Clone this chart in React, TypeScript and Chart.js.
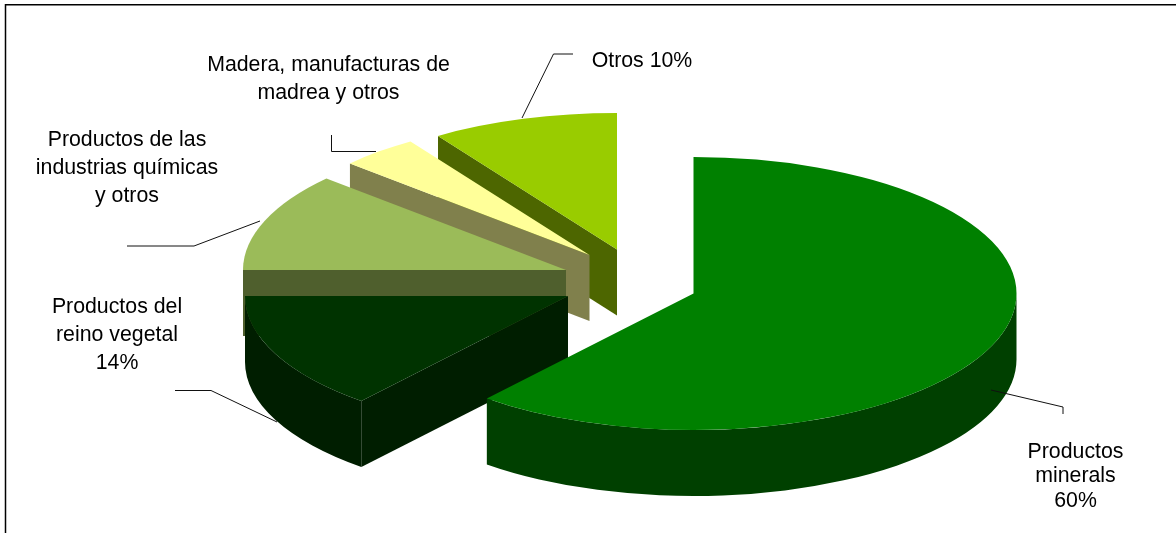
import React, { useEffect, useRef } from "react";
import { Chart, registerables } from "chart.js";

Chart.register(...registerables);

const categories = [
  "Productos minerals",
  "Productos del reino vegetal",
  "Productos de las industrias químicas y otros",
  "Madera, manufacturas de madrea y otros",
  "Otros",
];
const shares = [61.05, 13.95, 11.7, 3.95, 9.35];

// Colours
const topColors = ["#008000", "#003300", "#9BBB59", "#FFFF99", "#99CC00"];
const cutColors = ["#004000", "#001E00", "#4F5F2D", "#80804C", "#4D6600"];
const rimColors = ["#004000", "#001E00", "#4F5F2D", "#80804C", "#4D6600"];

// Exploded layout of the 3D pie
const W = 1176;
const H = 533;
const RX = 323;
const RY = 136.5;
const DEPTH = 66;
const apexX = [693.5, 568, 566, 589.5, 617];
const apexY = [293.5, 296, 270, 255, 249.5];
const drawOrder = [4, 3, 2, 1, 0];

// Labels
const FONT = '21.3px "Liberation Sans", Arial, sans-serif';
const labelLines = [
  { x: 1075.5, ys: [452, 476.5, 501], lines: ["Productos", "minerals", "60%"] },
  { x: 117, ys: [307, 335, 363], lines: ["Productos del", "reino vegetal", "14%"] },
  { x: 127, ys: [140, 168, 196], lines: ["Productos de las", "industrias químicas", "y otros"] },
  { x: 328.5, ys: [65, 93], lines: ["Madera, manufacturas de", "madrea y otros"] },
  { x: 642, ys: [61], lines: ["Otros 10%"] },
];
const leaders: number[][][] = [
  [[991, 390], [1063, 407], [1063, 414]],
  [[175, 390.5], [211, 390.5], [277, 422]],
  [[127, 246], [194, 246], [260, 221]],
  [[331.5, 135], [331.5, 151.5], [376, 151.5]],
  [[522, 118], [553.5, 54], [573, 54]],
];

const pie3d = {
  id: "pie3d",
  beforeDraw(chart: any) {
    const { ctx } = chart;
    ctx.save();
    ctx.fillStyle = "#ffffff";
    ctx.fillRect(0, 0, W, H);
    ctx.restore();
  },
  beforeDatasetDraw(chart: any, args: any) {
    const { ctx } = chart;
    const arcs = args.meta.data;
    for (const i of drawOrder) {
      const arc = arcs[i];
      const cx = apexX[i];
      const cy = apexY[i];
      const a0 = arc.startAngle;
      const a1 = arc.endAngle;
      // straight cut face below the leading edge of the slice
      const sx = cx + RX * Math.cos(a0);
      const sy = cy + RY * Math.sin(a0);
      ctx.save();
      ctx.fillStyle = cutColors[i];
      ctx.beginPath();
      ctx.moveTo(cx, cy);
      ctx.lineTo(sx, sy);
      ctx.lineTo(sx, sy + DEPTH);
      ctx.lineTo(cx, cy + DEPTH);
      ctx.closePath();
      ctx.fill();
      // curved rim, front half only
      const f0 = Math.max(a0, 0);
      const f1 = Math.min(a1, Math.PI);
      if (f1 > f0) {
        ctx.fillStyle = rimColors[i];
        ctx.beginPath();
        ctx.ellipse(cx, cy, RX, RY, 0, f0, f1);
        ctx.ellipse(cx, cy + DEPTH, RX, RY, 0, f1, f0, true);
        ctx.closePath();
        ctx.fill();
      }
      ctx.restore();
      // the library's own arc element, flattened and moved to its exploded place
      ctx.save();
      ctx.translate(cx, cy);
      ctx.scale(RX / arc.outerRadius, RY / arc.outerRadius);
      ctx.translate(-arc.x, -arc.y);
      arc.draw(ctx);
      ctx.restore();
    }
    return false;
  },
  afterDraw(chart: any) {
    const { ctx } = chart;
    ctx.save();
    // frame
    ctx.strokeStyle = "#000000";
    ctx.lineWidth = 1.5;
    ctx.beginPath();
    ctx.moveTo(5.5, H);
    ctx.lineTo(5.5, 4.8);
    ctx.lineTo(W, 4.8);
    ctx.stroke();
    // leader lines
    ctx.strokeStyle = "#111111";
    ctx.lineWidth = 1;
    for (const pts of leaders) {
      ctx.beginPath();
      pts.forEach(([x, y], k) => (k ? ctx.lineTo(x, y) : ctx.moveTo(x, y)));
      ctx.stroke();
    }
    // labels
    ctx.fillStyle = "#000000";
    ctx.font = FONT;
    ctx.textAlign = "center";
    ctx.textBaseline = "middle";
    for (const l of labelLines) {
      l.lines.forEach((t, k) => ctx.fillText(t, l.x, l.ys[k]));
    }
    ctx.restore();
  },
};

export default function App() {
  const ref = useRef<HTMLCanvasElement | null>(null);
  useEffect(() => {
    document.body.style.margin = "0";
    document.body.style.overflow = "hidden";
    const chart = new Chart(ref.current as HTMLCanvasElement, {
      type: "pie",
      data: {
        labels: categories,
        datasets: [
          {
            data: shares,
            backgroundColor: topColors,
            borderWidth: 0,
            radius: RX,
          } as any,
        ],
      },
      options: {
        responsive: false,
        animation: false,
        devicePixelRatio: 1,
        plugins: { legend: { display: false }, tooltip: { enabled: false } },
      },
      plugins: [pie3d],
    } as any);
    return () => chart.destroy();
  }, []);
  return (
    <div style={{ position: "absolute", left: 0, top: 0, width: W, height: H }}>
      <canvas ref={ref} width={W} height={H} style={{ display: "block" }} />
    </div>
  );
}
